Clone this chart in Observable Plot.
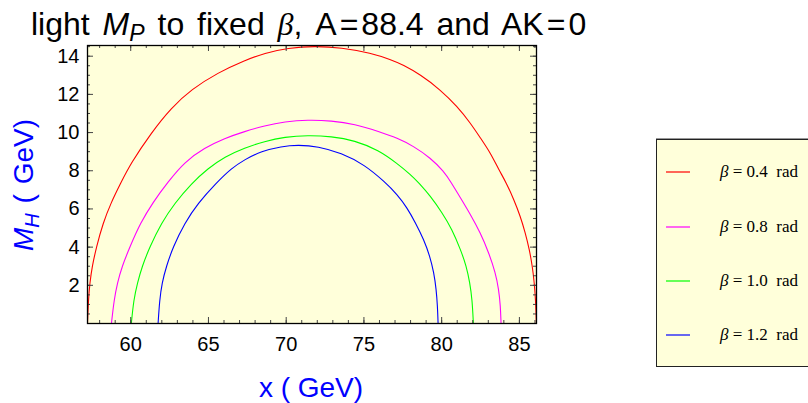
<!DOCTYPE html>
<html><head><meta charset="utf-8">
<script src="https://cdn.jsdelivr.net/npm/d3@7"></script>
<script src="https://cdn.jsdelivr.net/npm/@observablehq/plot@0.6"></script>
<style>
body{margin:0;background:#fff;}
#wrap{position:relative;width:808px;height:403px;overflow:hidden;font-family:"Liberation Sans",Arial,sans-serif;}
#chart{position:absolute;left:0;top:0;}
#title{position:absolute;left:31px;top:6px;font-size:32px;line-height:normal;white-space:nowrap;color:#000;word-spacing:4px;}
.eq{margin:0 3px;}
.sub{font-size:0.72em;position:relative;top:0.28em;}
.it{font-style:italic;}
.beta{font-family:"Liberation Serif",serif;font-style:italic;}
#xlab{position:absolute;left:311px;top:388px;transform:translate(-50%,-50%);font-size:28px;line-height:normal;color:#0000FF;white-space:pre;}
#ylab{position:absolute;left:24px;top:185px;transform:translate(-50%,-50%) rotate(-90deg);font-size:28px;line-height:normal;color:#0000FF;white-space:pre;word-spacing:2px;}
#legend{position:absolute;left:656px;top:139px;width:170px;height:226px;border:1.3px solid #222;background:#FFFFDA;box-shadow:0 -1px 0 #999;}
.row{position:absolute;left:0;height:20px;}
.row svg{position:absolute;left:8px;top:0;}
.row span{position:absolute;left:63px;top:0;font-family:"Liberation Serif",serif;font-size:17px;white-space:pre;line-height:20px;}
</style></head><body>
<div id="wrap">
  <div id="chart"></div>
  <div id="title">light <span class="it">M</span><span class="sub it">P</span> to fixed <span class="beta">β</span>, A<span class="eq">=</span>88.4 and AK<span class="eq">=</span>0</div>
  <div id="xlab">x ( GeV)</div>
  <div id="ylab"><span class="it">M</span><span class="sub it">H</span> ( GeV)</div>
  <div id="legend"></div>
</div>
<script>
// ---- data ----
const betaLabels = ["0.4", "0.8", "1.0", "1.2"];
const betaColors = ["#FF0000", "#FF00FF", "#00FF00", "#0000FF"];

// [x (GeV), M_H (GeV)] points along each contour
const curve04 = [[57.22,0],[57.28,1.24],[57.37,2.12],[57.52,2.99],[57.79,4.0],[58.22,5.26],[58.72,6.3],[59.36,7.36],[60.0,8.38],[61.33,10.0],[62.61,11.3],[63.9,12.26],[65.61,13.14],[67.33,13.78],[68.61,14.16],[70.11,14.43],[71.83,14.53],[73.54,14.45],[75.47,14.16],[76.75,13.81],[77.5,13.55],[78.64,13.03],[79.92,12.24],[81.0,11.37],[81.85,10.5],[82.49,9.72],[83.14,8.93],[83.67,8.06],[84.16,7.37],[84.64,6.49],[85.06,5.62],[85.38,4.75],[85.64,3.88],[85.83,3.01],[85.96,2.14],[86.05,1.1],[86.09,0]];
const curve08 = [[58.76,0],[58.93,1.24],[59.14,2.12],[59.44,2.99],[59.94,4.0],[60.62,5.26],[61.43,6.35],[62.4,7.42],[63.47,8.47],[64.75,9.2],[66.04,9.7],[67.33,10.06],[68.61,10.36],[69.9,10.57],[71.4,10.67],[72.9,10.62],[74.4,10.45],[76.0,10.04],[77.14,9.72],[78.21,9.28],[79.28,8.67],[80.14,7.97],[80.6,7.4],[81.21,6.58],[81.85,5.71],[82.49,4.75],[83.03,3.71],[83.46,2.66],[83.67,1.79],[83.78,0.92],[83.82,0]];
const curve10 = [[60.04,0],[60.19,1.24],[60.43,2.12],[60.73,2.99],[61.22,4.0],[61.97,5.26],[62.83,6.3],[63.9,7.33],[64.97,8.12],[66.04,8.73],[67.33,9.2],[68.61,9.54],[69.9,9.77],[71.4,9.86],[72.9,9.8],[74.4,9.59],[75.95,9.08],[77.14,8.38],[78.0,7.8],[78.53,7.37],[79.28,6.67],[80.03,5.8],[80.67,4.93],[81.21,3.88],[81.59,3.01],[81.81,2.14],[81.96,1.27],[82.04,0]];
const curve12 = [[61.76,0],[61.86,1.24],[62.01,2.12],[62.29,2.99],[62.72,4.0],[63.47,5.26],[64.33,6.3],[65.48,7.34],[66.47,8.12],[67.33,8.59],[68.4,9.02],[69.69,9.28],[70.76,9.35],[72.04,9.28],[73.54,8.93],[75.04,8.32],[76.35,7.41],[77.14,6.76],[77.78,6.06],[78.32,5.27],[78.85,4.4],[79.24,3.53],[79.5,2.66],[79.65,1.79],[79.73,0.92],[79.77,0]];

const xMajor = [60, 65, 70, 75, 80, 85];
const yMajor = [2, 4, 6, 8, 10, 12, 14];
const xMinor = d3.range(58, 87, 1);
const yMinor = d3.range(0.5, 14.6, 0.5);
const xDomain = [57.22, 86.1];
const yDomain = [0, 14.56];

// ---- layout ----
const W = 808, H = 403;
const mL = 87, mT = 45, mR = 272, mB = 80;
const fw = W - mL - mR, fh = H - mT - mB;
const tickC = "#444";

const curves = [curve04, curve08, curve10, curve12];
const lineMarks = curves.map((c, i) =>
  Plot.line(c, {x: d => d[0], y: d => d[1], stroke: betaColors[i], strokeWidth: 1.1, curve: "basis", clip: true}));

const chart = Plot.plot({
  width: W, height: H,
  marginLeft: mL, marginTop: mT, marginRight: mR, marginBottom: mB,
  style: {fontFamily: '"Liberation Sans", Arial, sans-serif', color: "#000", background: "transparent"},
  x: {domain: xDomain, label: null},
  y: {domain: yDomain, label: null},
  marks: [
    Plot.frame({fill: "#FFFFDA", stroke: null}),
    ...lineMarks,
    Plot.tickX(xMinor, {x: d => d, stroke: tickC, insetTop: fh - 3}),
    Plot.tickX(xMajor, {x: d => d, stroke: tickC, insetTop: fh - 6}),
    Plot.tickX(xMinor, {x: d => d, stroke: tickC, insetBottom: fh - 3}),
    Plot.tickX(xMajor, {x: d => d, stroke: tickC, insetBottom: fh - 6}),
    Plot.tickY(yMinor, {y: d => d, stroke: tickC, insetRight: fw - 3}),
    Plot.tickY(yMajor, {y: d => d, stroke: tickC, insetRight: fw - 6}),
    Plot.tickY(yMinor, {y: d => d, stroke: tickC, insetLeft: fw - 3}),
    Plot.tickY(yMajor, {y: d => d, stroke: tickC, insetLeft: fw - 6}),
    Plot.frame({stroke: "#000", strokeWidth: 1.3}),
    Plot.axisX(xMajor, {anchor: "bottom", tickSize: 0, tickPadding: 13, fontSize: 20, label: null, fill: "#000"}),
    Plot.axisY(yMajor, {anchor: "left", tickSize: 0, tickPadding: 8, fontSize: 20, label: null, fill: "#000"})
  ]
});
document.getElementById("chart").appendChild(chart);

// ---- legend ----
const legend = document.getElementById("legend");
const rowTops = [32, 87, 141, 195];
betaLabels.forEach((b, i) => {
  const row = document.createElement("div");
  row.className = "row";
  row.style.top = (rowTops[i] - 10) + "px";
  row.innerHTML = `<svg width="26" height="20"><line x1="1" x2="25" y1="10" y2="10" stroke="${betaColors[i]}" stroke-width="1.2"/></svg>` +
    `<span><i>β</i> = ${b}  rad</span>`;
  legend.appendChild(row);
});
</script>
</body></html>
